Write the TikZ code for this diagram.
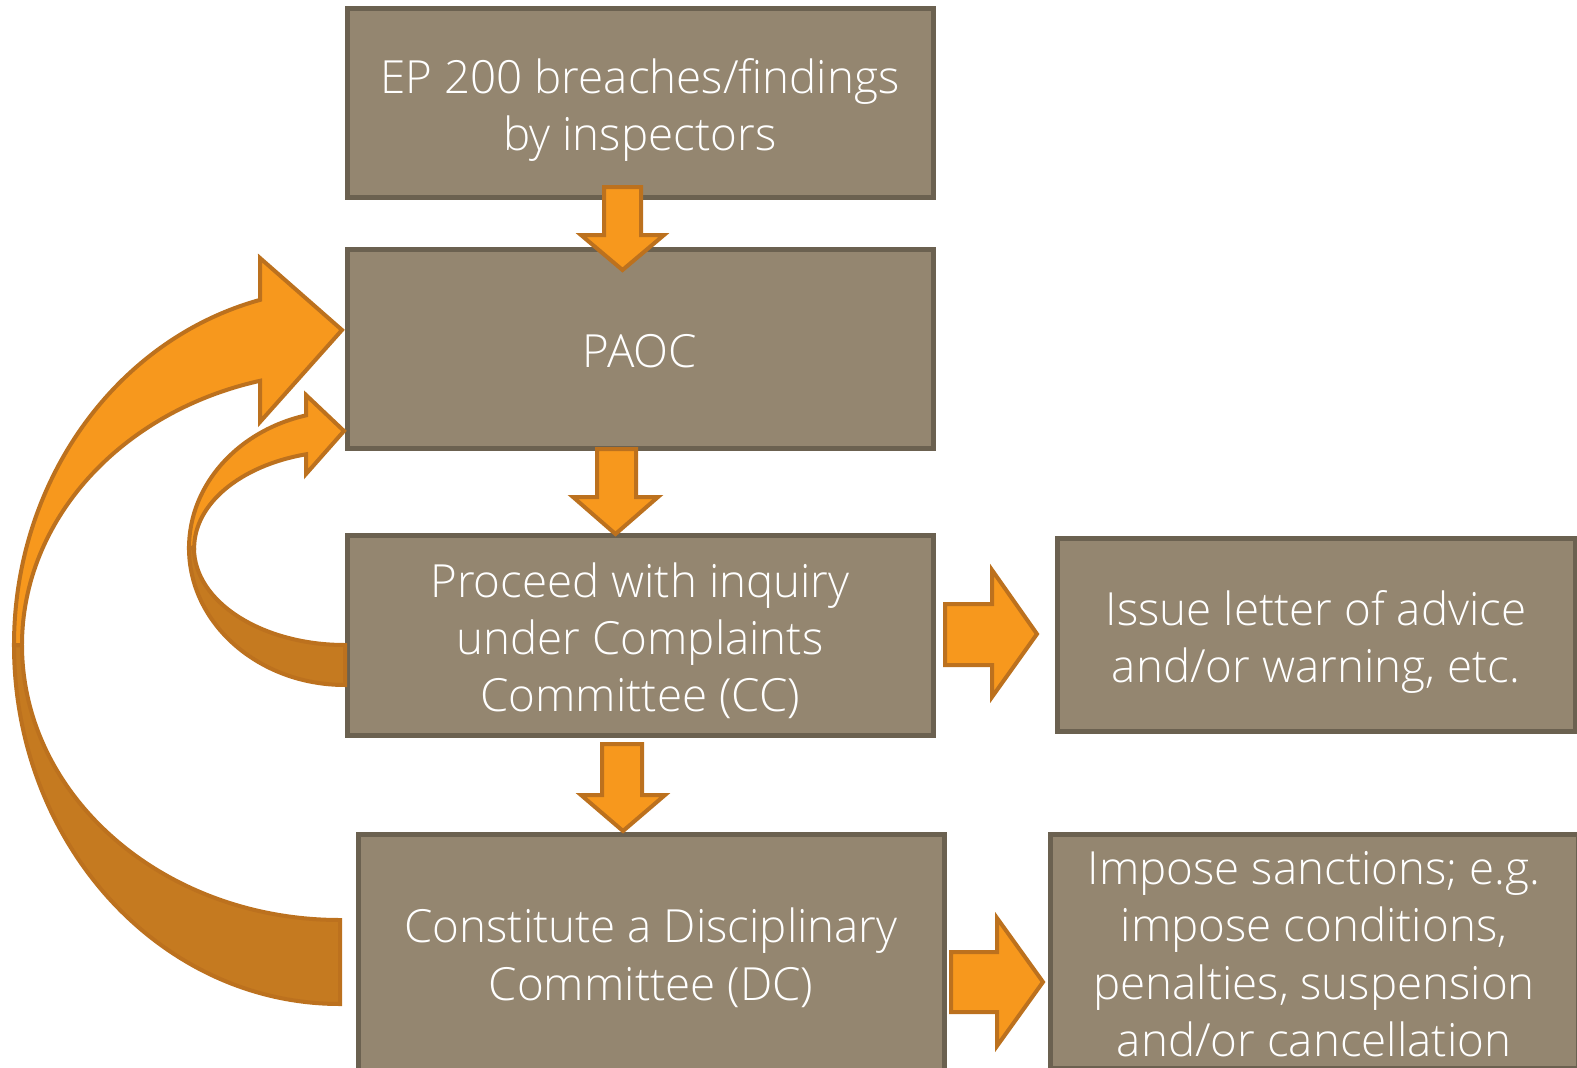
\documentclass[tikz,border=0pt]{standalone}
\usepackage{fontspec}
\IfFontExistsTF{Open Sans Light}{\setmainfont{Open Sans Light}}{\setmainfont{Open Sans}}
\definecolor{boxfill}{HTML}{948670}
\definecolor{boxline}{HTML}{6B6150}
\definecolor{arrfill}{HTML}{F7981D}
\definecolor{arrline}{HTML}{BC711E}
\definecolor{arrdark}{HTML}{C57A20}
% box text, a little lower than centred
\newcommand{\boxtext}[1]{\raisebox{-8pt}[\height][\depth]{\begin{tabular}{@{}c@{}}#1\end{tabular}}}
\begin{document}
\begin{tikzpicture}[x=1pt,y=-1pt,
  box/.style={rectangle, draw=boxline, fill=boxfill, line width=5pt, text=white,
    inner sep=0pt, font=\fontsize{45.7}{57.3}\selectfont},
  blk/.style={draw=arrline, fill=arrfill, line width=4pt},
  back/.style={draw=arrline, fill=arrdark, line width=4pt}]
\useasboundingbox (0,0) rectangle (1577,1068);
\clip (0,0) rectangle (1577,1068);
% boxes
\node [box, minimum width=586, minimum height=189] (ep) at (640,102.5) {\boxtext{EP 200 breaches/findings\\by inspectors}};
\node [box, minimum width=586, minimum height=199] (paoc) at (640,348.5) {\boxtext{PAOC}};
\node [box, minimum width=586, minimum height=200] (cc) at (640,635) {\boxtext{Proceed with inquiry\\under Complaints\\Committee (CC)}};
\node [box, minimum width=518, minimum height=193] (letter) at (1316,634.5) {\boxtext{Issue letter of advice\\and/or warning, etc.}};
\node [box, minimum width=586, minimum height=236] (dc) at (651,952) {\boxtext{Constitute a Disciplinary\\Committee (DC)}};
\node [box, minimum width=528, minimum height=234] (sanct) at (1314,951) {\boxtext{Impose sanctions; e.g.\\impose conditions,\\penalties, suspension\\and/or cancellation}};
% straight arrows
\draw [blk] (604,187) -- (641,187) -- (641,235) -- (664,235) -- (622.5,270) -- (581,235) -- (604,235) -- cycle;
\draw [blk] (597,449) -- (636,449) -- (636,497) -- (658,497) -- (615.5,534) -- (573,497) -- (597,497) -- cycle;
\draw [blk] (602,744) -- (642,744) -- (642,795) -- (665,795) -- (623,831) -- (581,795) -- (602,795) -- cycle;
\draw [blk] (945,604) -- (992,604) -- (992,570) -- (1037,634) -- (992,697) -- (992,665) -- (945,665) -- cycle;
\draw [blk] (951,952) -- (997,952) -- (997,918) -- (1043,982) -- (997,1046) -- (997,1012) -- (951,1012) -- cycle;
% curved arrow dc -> paoc
\draw [back] (340,920) -- (340,1004) arc[start angle=90, end angle=180, x radius=326, y radius=359]
  -- (22,645) arc[start angle=180, end angle=90, x radius=318, y radius=275] -- cycle;
\draw [blk] (14,645) arc[start angle=180, end angle=255.8, x radius=326, y radius=356]
  -- (260,258) -- (342,330) -- (260,422) -- (260,380.8)
  arc[start angle=255.43, end angle=180, x radius=318, y radius=273] -- cycle;
% curved arrow cc -> paoc
\draw [back] (345,645) -- (345,685) arc[start angle=90, end angle=180, x radius=156, y radius=137]
  -- (194,548) arc[start angle=180, end angle=90, x radius=151, y radius=97] -- cycle;
\draw [blk] (189,548) arc[start angle=180, end angle=255.52, x radius=156, y radius=137]
  -- (306,395) -- (344,431) -- (306,474) -- (306,454.3)
  arc[start angle=254.97, end angle=180, x radius=151, y radius=97] -- cycle;
\end{tikzpicture}
\end{document}
